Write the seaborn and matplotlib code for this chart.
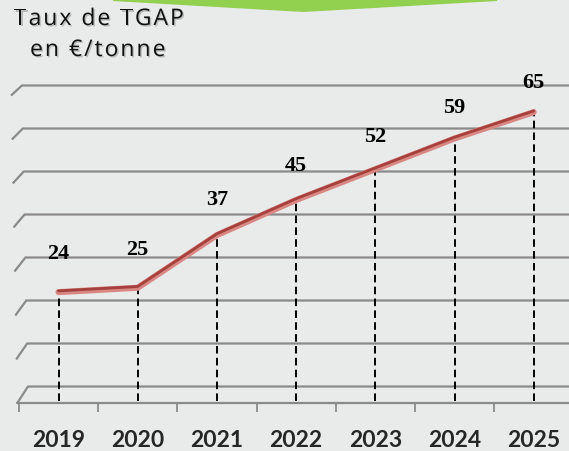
import matplotlib
matplotlib.use("Agg")
import matplotlib.pyplot as plt
import matplotlib.patheffects as pe
from matplotlib.patches import Polygon
from matplotlib.font_manager import FontProperties
import seaborn as sns
import pandas as pd

# data
years = ["2019", "2020", "2021", "2022", "2023", "2024", "2025"]
tgap = [24, 25, 37, 45, 52, 59, 65]
grid_levels = [0, 10, 20, 30, 40, 50, 60, 70]

df = pd.DataFrame({"pos": range(len(years)), "tgap": tgap})

sns.set_style("white")
bg = "#e9eaea"
grid_col = "#8a8a8a"

W, H = 569, 452
fig = plt.figure(figsize=(W / 100, H / 100), dpi=100, facecolor=bg)

# pixel geometry of the plot area (front plane)
px_x0, px_step = 58.5, 79.2       # centre of first category, step
px_y0, px_unit = 398.5, 4.39      # pixel row of value 0, pixels per unit
px_bottom, px_top = 404, 78
ymin = (px_y0 - px_bottom) / px_unit
ymax = (px_y0 - px_top) / px_unit
xmin, xmax = -0.5, 6.45
left = (px_x0 - 0.5 * px_step) / W
ax = fig.add_axes([left, (H - px_bottom) / H,
                   (xmax - xmin) * px_step / W, (px_bottom - px_top) / H])
ax.set_facecolor(bg)
ax.set_xlim(xmin, xmax)
ax.set_ylim(ymin, ymax)
for s in ax.spines.values():
    s.set_visible(False)
ax.set_yticks([])

sx = 1 / px_step   # data units per pixel in x
sy = 1 / px_unit   # data units per pixel in y

# back wall gridlines with the little perspective slant on the left
for v in grid_levels:
    f = v / 70
    yb = v * 4.3 / px_unit + 11 / px_unit
    xb = -0.5 + (28 - 6 * f - (px_x0 - 0.5 * px_step)) * sx
    xf = xb - 11 * sx
    yf = yb - (17 - 7 * f) * sy
    ax.plot([xf, xb, xmax + 1], [yf, yb, yb], color=grid_col, lw=1.6,
            solid_capstyle="butt", clip_on=False, zorder=1)

# floor front edge and category ticks
ax.plot([xmin - 1.5 * sx, xmax + 1], [ymin, ymin], color=grid_col, lw=1.6,
        clip_on=False, zorder=1)
ax.vlines([i - 0.5 for i in range(len(years) + 1)], ymin - 9 * sy, ymin,
          color=grid_col, lw=1.3, clip_on=False, zorder=1)

# dashed drop lines
ax.vlines(df["pos"], ymin + 2 * sy, df["tgap"], color="black", lw=1.4,
          linestyles=(0, (3.9, 2.2)), zorder=2)

# the ribbon line
sns.lineplot(data=df, x="pos", y="tgap", ax=ax, color="#c46460", lw=3.4,
             zorder=3, solid_joinstyle="miter",
             path_effects=[pe.Stroke(linewidth=4.4, foreground="#d98782"),
                           pe.Stroke(offset=(0, 0.9), linewidth=2.0,
                                     foreground="#a5403c")])

# value labels (sit a little lower on the right, perspective)
for i, v in enumerate(tgap):
    off_px = 44.5 - 0.22 * v
    ax.annotate(str(v), (i, v), xytext=(0, off_px * 0.72),
                textcoords="offset points", ha="center", va="center",
                fontsize=16, fontweight="bold", family="Liberation Serif",
                color="black", zorder=4)

ax.set_xticks(range(len(years)))
ax.set_xticklabels(years, fontsize=16.5, fontweight="bold", family="Lato")
ax.tick_params(axis="x", length=0, pad=19)
ax.set_xlabel("")
ax.set_ylabel("")

# green chevron at the top
chev = Polygon([[113 / W, 1], [497 / W, 1], [497 / W, 1 - 2 / H],
                [303 / W, 1 - 13 / H], [113 / W, 1 - 2 / H]],
               closed=True, transform=fig.transFigure, color="#92d050", lw=0)
fig.patches.append(chev)

# title, drawn letter by letter to get the wide tracking
shadow = [pe.withSimplePatchShadow(offset=(1, -1), shadow_rgbFace="#9a9a9a",
                                   alpha=0.6)]
title_fp = FontProperties(family="Open Sans", size=16.5)
renderer = fig.canvas.get_renderer()


def adv(s):
    w_ref = renderer.get_text_width_height_descent("|", title_fp, ismath=False)[0]
    w = renderer.get_text_width_height_descent(s + "|", title_fp, ismath=False)[0]
    return w - w_ref


def spaced_text(x_px, y_px, s, track=2.0):
    for k, ch in enumerate(s):
        if ch == " ":
            continue
        x = x_px + adv(s[:k]) + k * track
        fig.text(x / W, 1 - y_px / H, ch, fontproperties=title_fp,
                 ha="left", va="center", color="#111111", path_effects=shadow)


spaced_text(14, 20, "Taux de TGAP")
spaced_text(30, 51, "en €/tonne")

fig.savefig("out.png", dpi=100, facecolor=bg)
